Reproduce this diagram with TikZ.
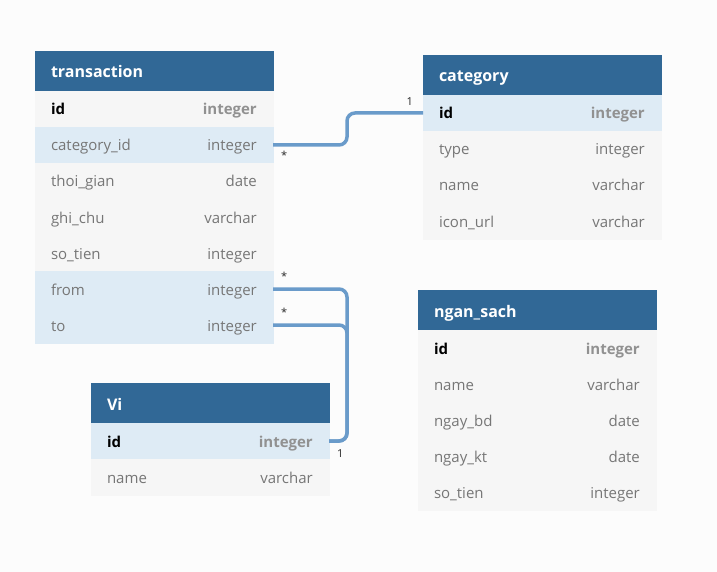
\documentclass[tikz,border=0pt]{standalone}
\usepackage{fontspec}
\setmainfont{Open Sans}
\usepackage{tikz}
\usetikzlibrary{positioning}
\definecolor{bgWhite}{RGB}{252,252,252}
\definecolor{headBlue}{RGB}{49,104,150}
\definecolor{rowGray}{RGB}{246,246,246}
\definecolor{rowBlue}{RGB}{222,235,245}
\definecolor{rowText}{RGB}{118,118,118}
\definecolor{keyType}{RGB}{145,145,145}
\definecolor{linkBlue}{RGB}{106,155,202}

\begin{document}
\begin{tikzpicture}[node distance=0pt, auto]
				% Define styles for boxes
				\tikzset{
					tablehead/.style={
						rectangle,
						fill=headBlue,
						draw=headBlue,
						line width=0.5pt,
						outer sep=0pt,
						text=white,
						minimum height=40pt,
						text width=206pt,
						inner xsep=16pt,
						inner ysep=0pt,
						text height=15pt,
						text depth=1pt,
						align=left,
						font=\bfseries\fontsize{16}{19}\selectfont
					},
					rowbox/.style={
						rectangle,
						fill=rowGray,
						draw=rowGray,
						line width=0.5pt,
						outer sep=0pt,
						text=rowText,
						minimum height=36pt,
						text width=206pt,
						inner xsep=16pt,
						inner ysep=0pt,
						text height=14pt,
						text depth=2pt,
						align=left,
						font=\fontsize{15}{18}\selectfont
					},
					keyrow/.style={rowbox, text=black, font=\bfseries\fontsize{15}{18}\selectfont},
					linkrow/.style={fill=rowBlue, draw=rowBlue},
					typelabel/.style={
						anchor=east,
						inner sep=0pt,
						text=rowText,
						text height=14pt,
						text depth=2pt,
						font=\fontsize{15}{18}\selectfont
					},
					keytype/.style={typelabel, text=keyType, font=\bfseries\fontsize{15}{18}\selectfont},
					link/.style={draw=linkBlue, line width=3.5pt, rounded corners=8pt},
					cardlabel/.style={inner sep=0pt, text=black!85, font=\fontsize{11}{13}\selectfont}
				}
				
				% Background
				\fill[bgWhite] (0,0) rectangle (717pt,-572pt);
				
				% Table transaction
				\node[tablehead, anchor=north west] (transHead) at (35pt,-51pt) {transaction};
				\node[keyrow, below=of transHead] (transId) {id};
				\node[rowbox, linkrow, below=of transId] (transCat) {category\_id};
				\node[rowbox, below=of transCat] (transTime) {thoi\_gian};
				\node[rowbox, below=of transTime] (transNote) {ghi\_chu};
				\node[rowbox, below=of transNote] (transMoney) {so\_tien};
				\node[rowbox, linkrow, below=of transMoney] (transFrom) {from};
				\node[rowbox, linkrow, below=of transFrom] (transTo) {to};
				\node[keytype] (transIdT) at ([xshift=-16pt]transId.east) {integer};
				\node[typelabel] (transCatT) at ([xshift=-16pt]transCat.east) {integer};
				\node[typelabel] (transTimeT) at ([xshift=-16pt]transTime.east) {date};
				\node[typelabel] (transNoteT) at ([xshift=-16pt]transNote.east) {varchar};
				\node[typelabel] (transMoneyT) at ([xshift=-16pt]transMoney.east) {integer};
				\node[typelabel] (transFromT) at ([xshift=-16pt]transFrom.east) {integer};
				\node[typelabel] (transToT) at ([xshift=-16pt]transTo.east) {integer};
				
				% Table category
				\node[tablehead, anchor=north west] (catHead) at (423pt,-55pt) {category};
				\node[keyrow, linkrow, below=of catHead] (catId) {id};
				\node[rowbox, below=of catId] (catType) {type};
				\node[rowbox, below=of catType] (catName) {name};
				\node[rowbox, below=of catName] (catIcon) {icon\_url};
				\node[keytype] (catIdT) at ([xshift=-16pt]catId.east) {integer};
				\node[typelabel] (catTypeT) at ([xshift=-16pt]catType.east) {integer};
				\node[typelabel] (catNameT) at ([xshift=-16pt]catName.east) {varchar};
				\node[typelabel] (catIconT) at ([xshift=-16pt]catIcon.east) {varchar};
				
				% Table ngan_sach
				\node[tablehead, anchor=north west] (budgetHead) at (418pt,-290pt) {ngan\_sach};
				\node[keyrow, below=of budgetHead] (budgetId) {id};
				\node[rowbox, below=of budgetId] (budgetName) {name};
				\node[rowbox, below=of budgetName] (budgetStart) {ngay\_bd};
				\node[rowbox, below=of budgetStart] (budgetEnd) {ngay\_kt};
				\node[rowbox, below=of budgetEnd] (budgetMoney) {so\_tien};
				\node[keytype] (budgetIdT) at ([xshift=-16pt]budgetId.east) {integer};
				\node[typelabel] (budgetNameT) at ([xshift=-16pt]budgetName.east) {varchar};
				\node[typelabel] (budgetStartT) at ([xshift=-16pt]budgetStart.east) {date};
				\node[typelabel] (budgetEndT) at ([xshift=-16pt]budgetEnd.east) {date};
				\node[typelabel] (budgetMoneyT) at ([xshift=-16pt]budgetMoney.east) {integer};
				
				% Table Vi
				\node[tablehead, anchor=north west] (viHead) at (91pt,-383pt) {Vi};
				\node[keyrow, linkrow, below=of viHead] (viId) {id};
				\node[rowbox, below=of viId] (viName) {name};
				\node[keytype] (viIdT) at ([xshift=-16pt]viId.east) {integer};
				\node[typelabel] (viNameT) at ([xshift=-16pt]viName.east) {varchar};
				
				% Links between tables
				\draw[link] (transCat.east) -- ++(74pt,0) |- (catId.west);
				\draw[link] (transFrom.east) -- ++(74pt,0) |- (viId.east);
				\draw[link] (transTo.east) -- ++(74pt,0) |- (viId.east);
				
				% Cardinality labels
				\node[cardlabel, anchor=base west] (catMany) at ([xshift=8pt, yshift=-15pt]transCat.east) {*};
				\node[cardlabel, anchor=base east] (catOne) at ([xshift=-10pt, yshift=7pt]catId.west) {1};
				\node[cardlabel, anchor=base west] (fromMany) at ([xshift=8pt, yshift=9pt]transFrom.east) {*};
				\node[cardlabel, anchor=base west] (toMany) at ([xshift=8pt, yshift=9pt]transTo.east) {*};
				\node[cardlabel, anchor=base west] (viOne) at ([xshift=8pt, yshift=-16pt]viId.east) {1};
			\end{tikzpicture}
\end{document}
